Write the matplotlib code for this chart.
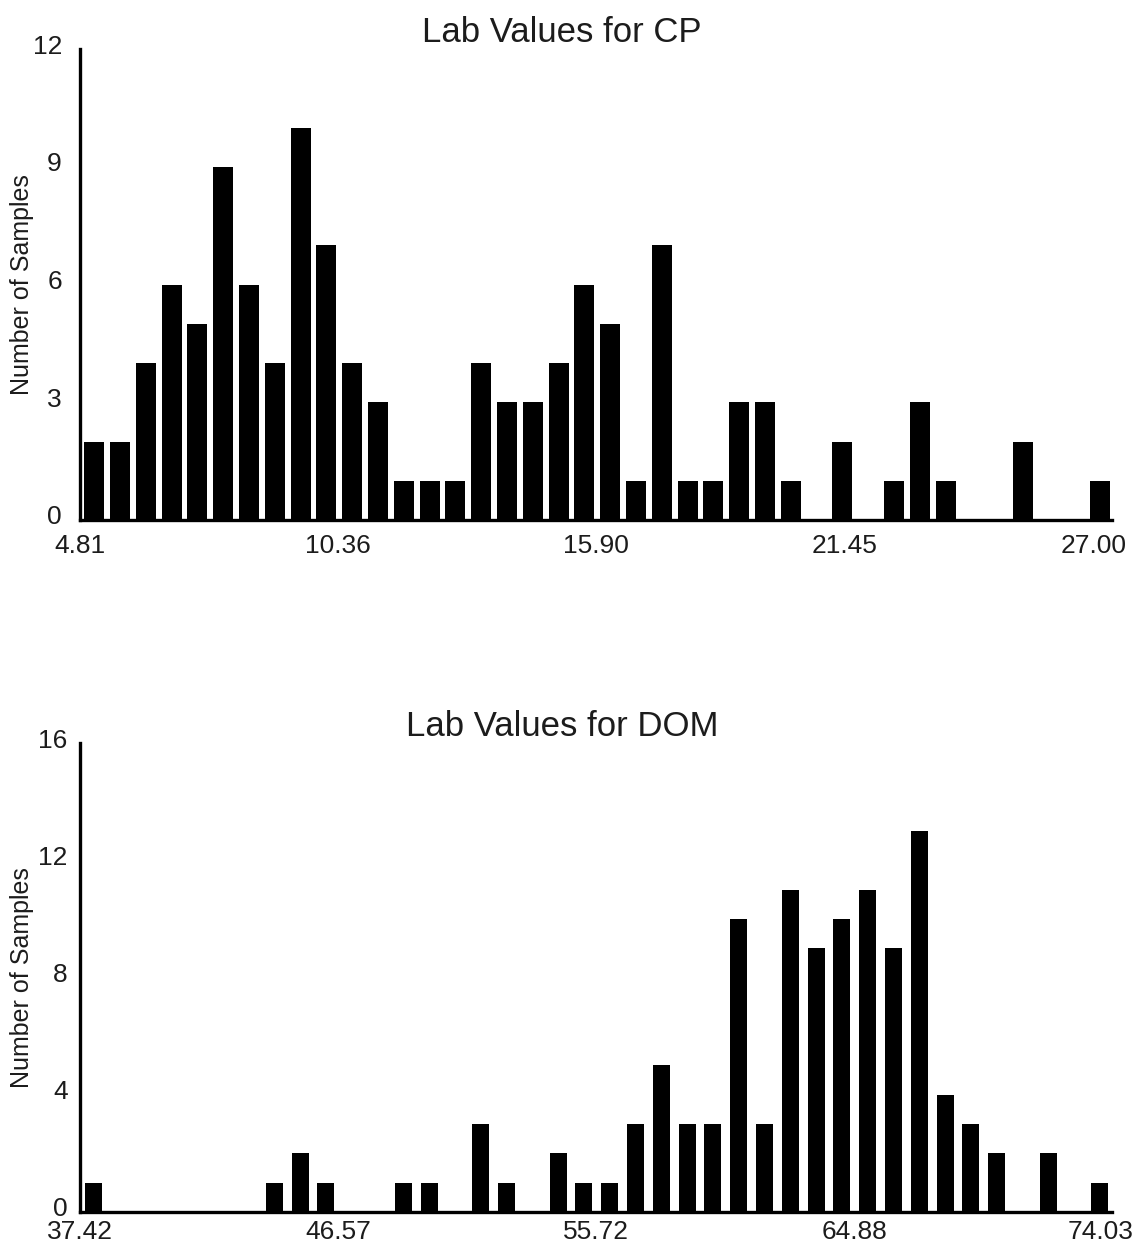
import numpy as np
import matplotlib
matplotlib.use("Agg")
from matplotlib import pyplot as plt
from matplotlib.transforms import ScaledTranslation

plt.rcParams['font.family'] = ['Liberation Sans', 'DejaVu Sans']

# histogram counts, 40 equal bins each
CP_RANGE = (4.81, 27.00)
CP_COUNTS = [2, 2, 4, 6, 5, 9, 6, 4, 10, 7,
             4, 3, 1, 1, 1, 4, 3, 3, 4, 6,
             5, 1, 7, 1, 1, 3, 3, 1, 0, 2,
             0, 1, 3, 1, 0, 0, 2, 0, 0, 1]
CP_TICKS = ['4.81', '10.36', '15.90', '21.45', '27.00']
CP_YTICKS = [0, 3, 6, 9, 12]

DOM_RANGE = (37.42, 74.03)
DOM_COUNTS = [1, 0, 0, 0, 0, 0, 0, 1, 2, 1,
              0, 0, 1, 1, 0, 3, 1, 0, 2, 1,
              1, 3, 5, 3, 3, 10, 3, 11, 9, 10,
              11, 9, 13, 4, 3, 2, 0, 2, 0, 1]
DOM_TICKS = ['37.42', '46.57', '55.72', '64.88', '74.03']
DOM_YTICKS = [0, 4, 8, 12, 16]

TXT = '#1c1c1c'
W, H = 1140, 1247

fig = plt.figure(figsize=(W / 100, H / 100), dpi=100)
fig.patch.set_facecolor('white')


def shift(lab, dx, dy):
    lab.set_transform(lab.get_transform() +
                      ScaledTranslation(dx / 100, dy / 100, fig.dpi_scale_trans))


def draw_hist(rect, rng, counts, ticks, yticks, title, title_y,
              bar_off, bar_w, xpad, ypad, label_shift):
    ax = fig.add_axes(rect)
    edges = np.linspace(rng[0], rng[1], len(counts) + 1)
    binw = edges[1] - edges[0]
    ax.bar(edges[:-1] + bar_off * binw, counts, width=bar_w * binw,
           align='edge', color='black', linewidth=0, zorder=2)
    ax.set_xlim(rng)
    ax.set_ylim(yticks[0], yticks[-1])
    ax.set_xticks([float(t) for t in ticks])
    ax.set_xticklabels(ticks)
    ax.set_yticks(yticks)
    for s in ['top', 'right']:
        ax.spines[s].set_visible(False)
    for s in ['left', 'bottom']:
        ax.spines[s].set_linewidth(2.4)
        ax.spines[s].set_color('black')
        ax.spines[s].set_zorder(3)
    ax.tick_params(axis='x', length=0, pad=xpad, labelsize=19, labelcolor=TXT)
    ax.tick_params(axis='y', length=0, pad=ypad, labelsize=19, labelcolor=TXT)
    # shift some x labels left like the original renderer did
    for lab, dx in zip(ax.get_xticklabels(), label_shift):
        if dx:
            shift(lab, dx, 0)
    # y labels sit a little above their ticks
    for lab in ax.get_yticklabels():
        shift(lab, 0, 5)
    ax.set_ylabel('Number of Samples', fontsize=18, color=TXT)
    ax.yaxis.set_label_coords(-0.045, 0.5)
    fig.text(562 / W, title_y, title, fontsize=25, color=TXT,
             ha='center', va='baseline')
    return ax


draw_hist([80 / W, 1 - 520 / H, 1032 / W, 471 / H], CP_RANGE, CP_COUNTS,
          CP_TICKS, CP_YTICKS, 'Lab Values for CP', 1 - 42 / H,
          0.16, 0.78, 10, 13, [0, 0, 0, -9, -18])

draw_hist([80 / W, 1 - 1212 / H, 1032 / W, 469 / H], DOM_RANGE, DOM_COUNTS,
          DOM_TICKS, DOM_YTICKS, 'Lab Values for DOM', 1 - 736 / H,
          0.2, 0.66, 6, 9, [0, 0, 0, 0, -11])

fig.savefig('out.png', dpi=100, facecolor='white')
